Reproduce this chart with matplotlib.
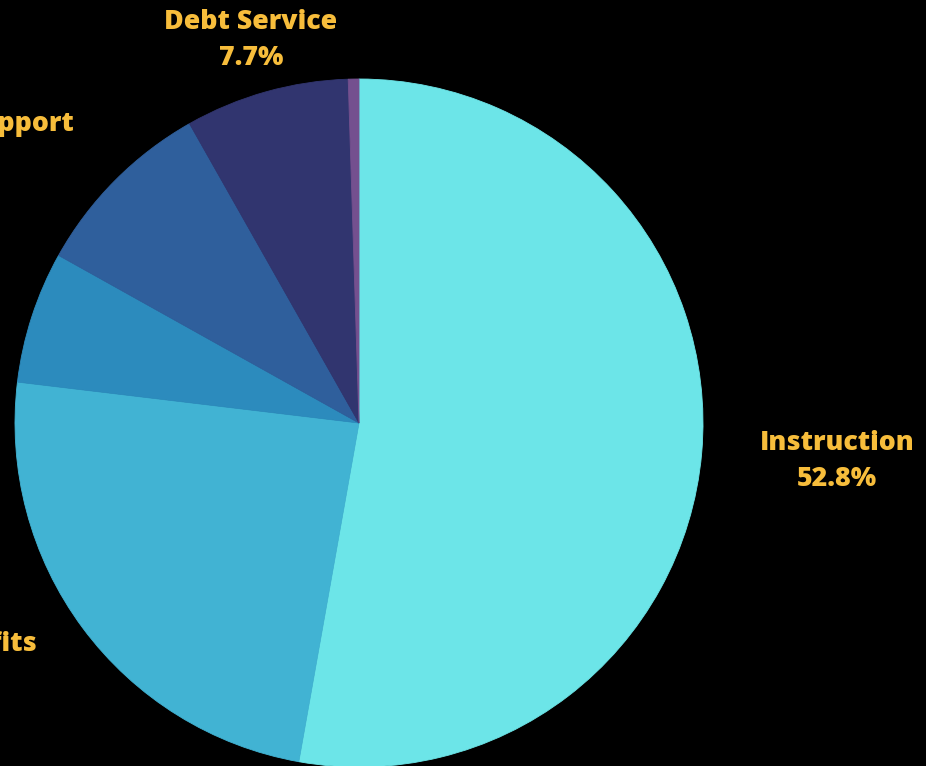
import matplotlib.pyplot as plt

# Budget share by category (percent), clockwise from 12 o'clock
categories = ["Instruction", "Employee Benefits", "Operations",
              "Instructional Support", "Debt Service", "Other"]
shares = [52.8, 24.1, 6.2, 8.7, 7.7, 0.5]
colors = ["#6ce5e8", "#41b3d3", "#2c8bbd", "#2f5f9c", "#31356f", "#74508f"]

# label anchors in pixel coords (x, y from top, horizontal alignment)
label_pos = [(837, 461, "center"), (37, 662, "right"), (-60, 333, "right"),
             (74, 142, "right"), (251, 40, "center"), None]

W, H = 926, 766
fig = plt.figure(figsize=(W / 100, H / 100), dpi=100, facecolor="black")
ax = fig.add_axes([0, 0, 1, 1])
ax.set_facecolor("black")

wedges, _ = ax.pie(shares, colors=colors, startangle=90, counterclock=False,
                   center=(359, H - 423), radius=344,
                   wedgeprops=dict(linewidth=0.6, antialiased=True))
for w, c in zip(wedges, colors):
    w.set_edgecolor(c)

for name, val, pos in zip(categories, shares, label_pos):
    if pos is None:
        continue
    x, y, ha = pos
    ax.text(x, H - y, f"{name}\n{val}%", ha=ha, va="center",
            multialignment="center", color="#f7bd3b", fontsize=19.3,
            fontweight=800, family=["Open Sans", "DejaVu Sans"],
            linespacing=1.53, clip_on=False)

ax.set_xlim(0, W)
ax.set_ylim(0, H)
ax.set_aspect("equal")
ax.axis("off")

fig.savefig("out.png", dpi=100, facecolor="black")
